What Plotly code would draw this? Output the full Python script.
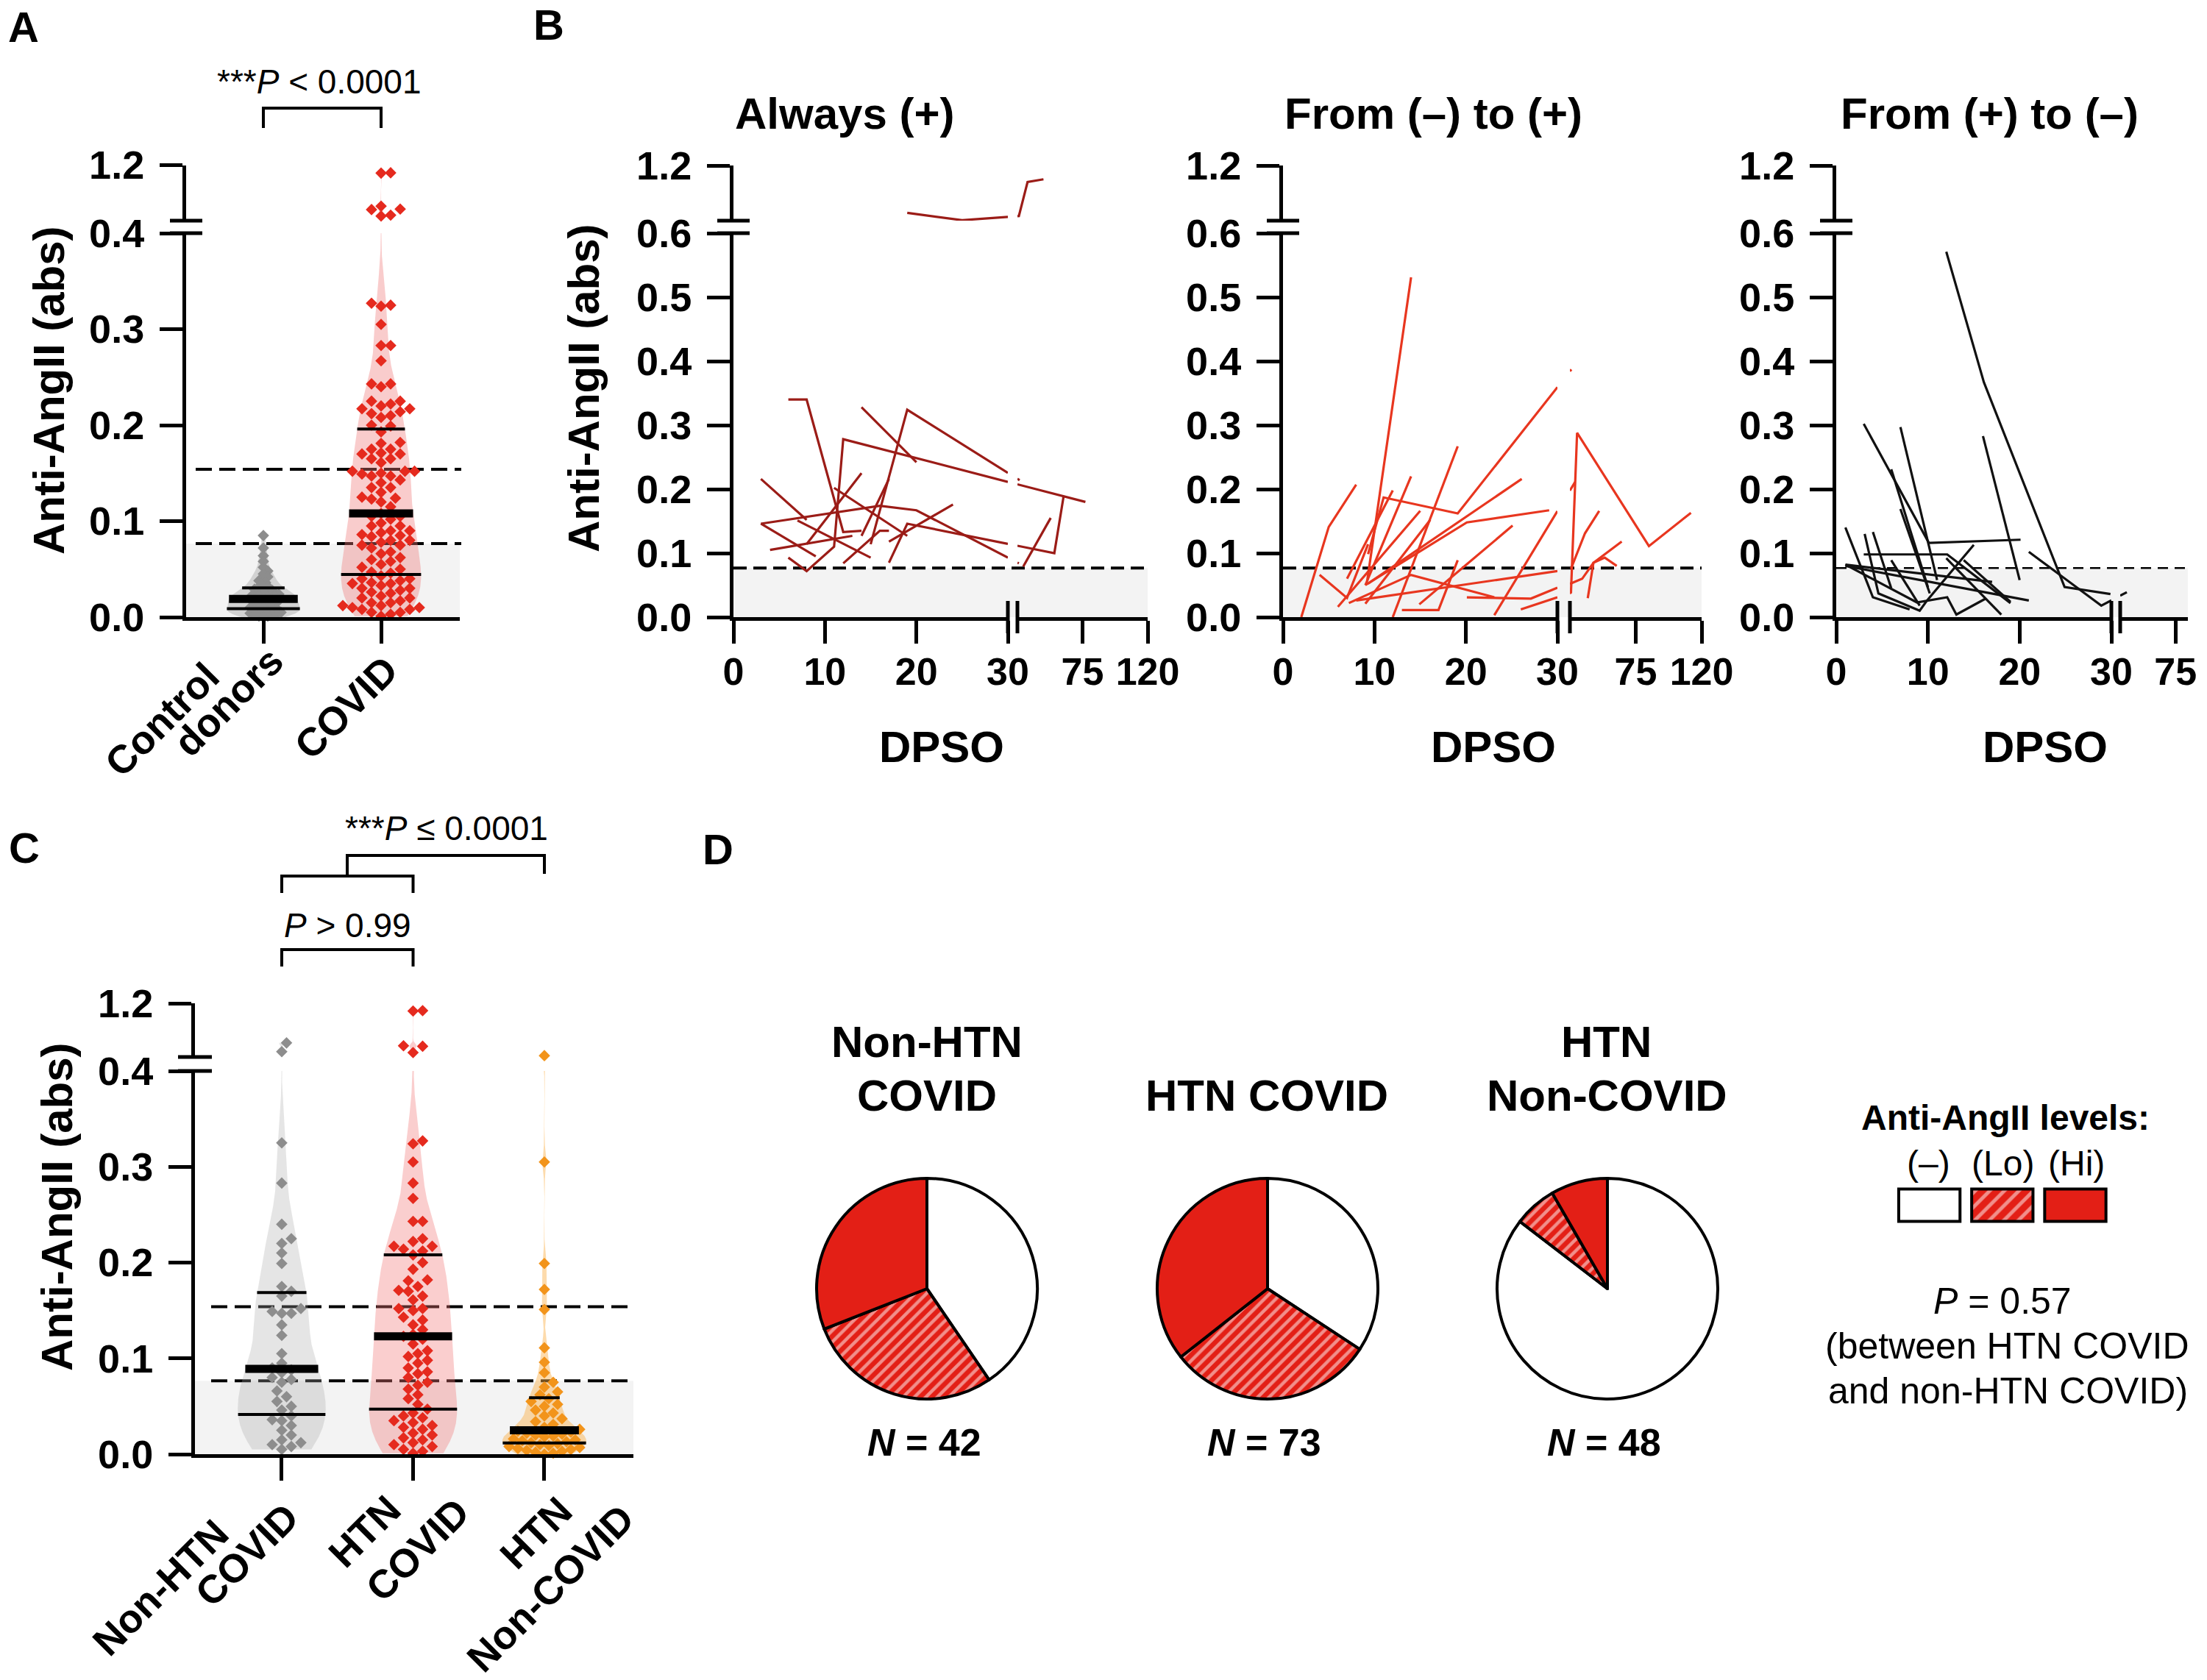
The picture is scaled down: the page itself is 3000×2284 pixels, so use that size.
import numpy as np
import plotly.graph_objects as go

W, H = 3000, 2284
FONT = "Liberation Sans, Arial, Helvetica, sans-serif"

# ---------------- data ----------------
A_CATEGORIES = ["Control donors", "COVID"]
CONTROL_DONORS = [0.085, 0.072, 0.064, 0.058, 0.052, 0.048, 0.045, 0.042, 0.040, 0.038, 0.036, 0.034, 0.032,
                  0.030, 0.029, 0.028, 0.027, 0.026, 0.025, 0.024, 0.023, 0.022, 0.022, 0.021, 0.020, 0.019,
                  0.019, 0.018, 0.017, 0.016, 0.015, 0.015, 0.014, 0.013, 0.012, 0.011, 0.010, 0.010, 0.009,
                  0.008, 0.007, 0.007, 0.006, 0.005, 0.005, 0.004, 0.003, 0.003, 0.002, 0.001, 0.001, 0.000]
NONHTN_COVID = [0.610, 0.480, 0.325, 0.283, 0.240, 0.225, 0.220, 0.210, 0.199, 0.175, 0.170, 0.165,
                0.152, 0.149, 0.147, 0.147, 0.135, 0.124, 0.105, 0.095, 0.090, 0.088, 0.085, 0.080,
                0.078, 0.075, 0.066, 0.060, 0.055, 0.050, 0.046, 0.040, 0.036, 0.035, 0.030, 0.025,
                0.020, 0.015, 0.012, 0.010, 0.008, 0.005]
HTN_COVID = [1.090, 1.085, 0.567, 0.560, 0.466,
             0.327, 0.324, 0.305, 0.283, 0.267, 0.243, 0.243, 0.225, 0.222, 0.217, 0.217, 0.214, 0.212,
             0.208, 0.200, 0.193, 0.182, 0.181, 0.175, 0.171, 0.170, 0.165, 0.161, 0.152, 0.152, 0.150,
             0.143, 0.140, 0.135, 0.130, 0.125, 0.123,
             0.120, 0.115, 0.108, 0.105, 0.102, 0.098, 0.095, 0.090, 0.086, 0.084, 0.080, 0.075, 0.072,
             0.068, 0.062, 0.058, 0.052, 0.047,
             0.043, 0.040, 0.038, 0.035, 0.033, 0.030, 0.028, 0.026, 0.022, 0.020, 0.017, 0.015, 0.012,
             0.010, 0.008, 0.005, 0.003, 0.001]
HTN_NONCOVID = [0.420, 0.305, 0.199, 0.172, 0.151, 0.111, 0.096, 0.085, 0.075, 0.070, 0.065, 0.062,
                0.058, 0.055, 0.052, 0.050, 0.046, 0.043, 0.040, 0.037, 0.034, 0.031, 0.028, 0.026,
                0.024, 0.023, 0.022, 0.021, 0.020, 0.019, 0.018, 0.016, 0.015, 0.014, 0.013, 0.012,
                0.011, 0.010, 0.009, 0.008, 0.007, 0.006, 0.005, 0.004, 0.003, 0.002, 0.001, 0.000]
ALL_COVID = NONHTN_COVID + HTN_COVID
C_CATEGORIES = ["Non-HTN COVID", "HTN COVID", "HTN Non-COVID"]

LO_CUTOFF = 0.0766
HI_CUTOFF = 0.154

AC_YTICKS = [0.0, 0.1, 0.2, 0.3, 0.4]
AC_YTICKTEXT = ["0.0", "0.1", "0.2", "0.3", "0.4"]
B_YTICKS = [0.0, 0.1, 0.2, 0.3, 0.4, 0.5, 0.6]
B_YTICKTEXT = ["0.0", "0.1", "0.2", "0.3", "0.4", "0.5", "0.6"]
TOP_TICK = [1.2]
TOP_TICKTEXT = ["1.2"]
B_XTICKS_EARLY = [0, 10, 20, 30]
B_XTICKS_LATE = [75, 120]
B3_XTICKS_LATE = [75]

# Panel B: days post symptom onset (DPSO) and Anti-AngII per patient
ALWAYS_DAYS = [[6, 8, 12, 14], [14, 20], [15, 19, 31.5], [6, 8, 11, 12, 77], [17, 19, 55.5, 62],
               [34, 53], [3, 16, 20, 31], [3, 9], [3, 8], [11, 19], [4, 13], [7, 15], [8, 14],
               [12, 16, 17], [14, 17], [17, 24], [19, 25, 31, 37, 48]]
ALWAYS_VALS = [[0.340, 0.340, 0.133, 0.135], [0.328, 0.242], [0.114, 0.324, 0.214],
               [0.093, 0.072, 0.110, 0.278, 0.180], [0.085, 0.146, 0.100, 0.190],
               [0.079, 0.155], [0.146, 0.174, 0.167, 0.084], [0.146, 0.095], [0.216, 0.152],
               [0.202, 0.127], [0.105, 0.127], [0.151, 0.093], [0.114, 0.225],
               [0.084, 0.135, 0.135], [0.127, 0.216], [0.118, 0.176], [0.685, 0.605, 0.650, 1.02, 1.05]]

NEG2POS_DAYS = [[2, 5, 8], [4, 7, 9.3], [9.2, 14], [9.3, 11, 19.1, 31], [9, 20.1, 29.1],
                [30.7, 34.9, 84, 112.7], [30.7, 40.3, 50], [30, 38.4, 46.1, 65.4], [42.2, 46.1, 53.8, 62],
                [23.1, 33.5], [26, 30.7], [20.1, 27.1, 30], [8, 30], [7, 12], [9, 14], [12, 19.1],
                [13, 17, 19.1], [9.3, 26.1], [14.9, 25.1], [6, 15], [9, 16.1], [7.2, 14, 23.1]]
NEG2POS_VALS = [[0.0, 0.141, 0.207], [0.066, 0.030, 0.114], [0.056, 0.531], [0.0985, 0.187, 0.162, 0.387],
                [0.05, 0.148, 0.167], [0.037, 0.288, 0.111, 0.163], [0.0755, 0.131, 0.166],
                [0.052, 0.060, 0.085, 0.118], [0.0295, 0.085, 0.093, 0.080], [0.003, 0.211],
                [0.012, 0.038], [0.031, 0.029, 0.046], [0.026, 0.072], [0.060, 0.198], [0.05, 0.220],
                [0.0, 0.267], [0.011, 0.011, 0.089], [0.0525, 0.216], [0.020, 0.143], [0.016, 0.166],
                [0.021, 0.152], [0.022, 0.066, 0.031]]

POS2NEG_DAYS = [[12, 16.1, 24.9, 29.9], [21, 28.9, 35.4], [3, 10.1, 20.1], [7, 11], [16, 20], [6, 10],
                [7, 10.2], [3, 12.1, 19], [1, 4, 8], [3.1, 4.6, 9.1, 9.9, 15], [4, 6],
                [1, 8.8, 12.1, 13.1, 16.3], [1, 17], [1, 21], [12, 18], [13.9, 19], [6, 9.1]]
POS2NEG_VALS = [[0.571, 0.367, 0.047, 0.036], [0.102, 0.018, 0.039], [0.302, 0.116, 0.121],
                [0.297, 0.058], [0.283, 0.058], [0.231, 0.047], [0.169, 0.037], [0.098, 0.098, 0.022],
                [0.140, 0.031, 0.012], [0.130, 0.037, 0.010, 0.026, 0.113], [0.133, 0.045],
                [0.082, 0.023, 0.031, 0.004, 0.029], [0.082, 0.055], [0.080, 0.026], [0.092, 0.004],
                [0.089, 0.024], [0.089, 0.018]]

# Panel D: counts per Anti-AngII level
PIE_LEVELS = ["(–)", "(Lo)", "(Hi)"]
PIE_NONHTN_COVID = [17, 12, 13]
PIE_HTN_COVID = [25, 22, 26]
PIE_HTN_NONCOVID = [41, 3, 4]

RED = "#e31f16"
COL_ALWAYS = "#9b1c17"
COL_NEG2POS = "#e8361f"
COL_POS2NEG = "#111111"

# ---------------- helpers ----------------
fig = go.Figure()
layout = dict(width=W, height=H, margin=dict(l=0, r=0, t=0, b=0, pad=0),
              paper_bgcolor="white", plot_bgcolor="white", showlegend=False,
              font=dict(family=FONT, color="black"))
shapes, annotations = [], []
counter = {"x": 0, "y": 0}


def px_x(p):
    return p / W


def px_y(p):
    return 1 - p / H


def axis_style(tickvals, ticktext, size, standoff, **kw):
    d = dict(showline=True, linecolor="black", linewidth=5, ticks="outside", ticklen=31,
             tickwidth=5, tickcolor="black", showgrid=False, zeroline=False,
             tickmode="array", tickvals=tickvals, ticktext=ticktext,
             tickfont=dict(family=FONT, size=size, color="black", weight="bold"),
             ticklabelstandoff=standoff, fixedrange=True, automargin=False)
    d.update(kw)
    return d


def new_axis(kind, p0, p1, rng, style):
    counter[kind] += 1
    n = counter[kind]
    suffix = "" if n == 1 else str(n)
    dom = [px_x(p0), px_x(p1)] if kind == "x" else [px_y(p0), px_y(p1)]
    d = dict(domain=dom, range=rng)
    d.update(style)
    layout[kind + "axis" + suffix] = d
    return kind + suffix, kind + "axis" + suffix


def text(x, y, s, size, bold=False, angle=0, xanchor="center"):
    annotations.append(dict(x=px_x(x), y=px_y(y), xref="paper", yref="paper", text=s, showarrow=False,
                            font=dict(family=FONT, size=size, color="black",
                                      weight="bold" if bold else "normal"),
                            textangle=angle, xanchor=xanchor, yanchor="middle"))


def pline(x0, y0, x1, y1, w=5):
    shapes.append(dict(type="line", xref="paper", yref="paper", x0=px_x(x0), y0=px_y(y0),
                       x1=px_x(x1), y1=px_y(y1), line=dict(color="black", width=w), layer="above"))


def ppath(points, w=4):
    d = "M " + " L ".join(f"{px_x(a):.5f},{px_y(b):.5f}" for a, b in points)
    shapes.append(dict(type="path", xref="paper", yref="paper", path=d,
                       line=dict(color="black", width=w), layer="above"))


def hline(yref, val, x0, x1, w, dash):
    shapes.append(dict(type="line", xref="paper", yref=yref, x0=px_x(x0), x1=px_x(x1), y0=val, y1=val,
                       line=dict(color="black", width=w, dash=dash), layer="below"))


def shade(yref, x0, x1, top):
    shapes.append(dict(type="rect", xref="paper", yref=yref, x0=px_x(x0), x1=px_x(x1), y0=0, y1=top,
                       fillcolor="#f3f3f3", line=dict(width=0), layer="below"))


def swarm(v, ymap, d):
    ys = np.array([ymap(t) for t in v])
    order = np.argsort(ys, kind="stable")
    offs = [0.0]
    for j in range(1, 80):
        offs += [j * d * 0.5, -j * d * 0.5]
    placed, out = [], np.zeros(len(v))
    for i in order:
        y = ys[i]
        near = [(a, b) for a, b in placed if abs(b - y) < d]
        for o in offs:
            if all((o - a) ** 2 + (y - b) ** 2 >= d * d for a, b in near):
                break
        placed.append((o, y))
        out[i] = o
    return out


def draw_group(vals, center, xref, ylo, yhi, xscale, lo_scale, gap, hi_scale, fill, pcolor, halfw, dist):
    v = np.asarray(vals, dtype=float)
    q1, q2, q3 = np.percentile(v, [25, 50, 75])
    sd = v.std(ddof=1)
    bw = max(0.9 * min(sd, (q3 - q1) / 1.34) * len(v) ** -0.2 * 0.75, 0.005)
    grid = np.linspace(v.min(), v.max(), 1600)
    dens = np.exp(-0.5 * ((grid[:, None] - v[None, :]) / bw) ** 2).sum(axis=1)
    w = dens * halfw / dens.max()
    xs = np.concatenate([center + w, (center - w)[::-1]])
    ys = np.concatenate([grid, grid[::-1]])
    for yr in (ylo, yhi):
        fig.add_trace(go.Scatter(x=xs, y=ys, xaxis=xref, yaxis=yr, mode="lines", fill="toself",
                                 fillcolor=fill, line=dict(width=0), hoverinfo="skip"))

    def ymap(val):
        return val * lo_scale if val <= 0.4 else 0.4 * lo_scale + gap + (val - 0.4) * hi_scale

    xp = center + swarm(v, ymap, dist) / xscale
    lo = v <= 0.4
    for mask, yr in ((lo, ylo), (~lo, yhi)):
        if mask.any():
            fig.add_trace(go.Scatter(x=xp[mask], y=v[mask], xaxis=xref, yaxis=yr, mode="markers",
                                     marker=dict(symbol="diamond", size=12, color=pcolor, line=dict(width=0)),
                                     cliponaxis=False, hoverinfo="skip"))
    for q, lw in ((q1, 4), (q3, 4), (q2, 11)):
        hw = float(np.interp(q, grid, w))
        fig.add_trace(go.Scatter(x=[center - hw, center + hw], y=[q, q], xaxis=xref, yaxis=ylo,
                                 mode="lines", line=dict(color="black", width=lw), hoverinfo="skip"))


def cat_label(lines_with_pos, size=54):
    for s, (x, y) in lines_with_pos:
        text(x, y, s, size, bold=True, angle=-45)


# ---------------- Panel A ----------------
xA, xAk = new_axis("x", 253, 625, [-0.65625, 1.66875],
                   axis_style([0, 1], A_CATEGORIES, 54, 6, showticklabels=False))
yA, yAk = new_axis("y", 839, 317, [0, 0.4], axis_style(AC_YTICKS, AC_YTICKTEXT, 54, 10))
yA2, yA2k = new_axis("y", 300, 224.5, [0.4, 1.2], axis_style(TOP_TICK, TOP_TICKTEXT, 54, 10))
layout[xAk]["anchor"] = yA
layout[yAk]["anchor"] = xA
layout[yA2k]["anchor"] = xA

shade(yA, 253, 625, LO_CUTOFF)
hline(yA, HI_CUTOFF, 266, 627, 4, "22px,10px")
hline(yA, LO_CUTOFF, 266, 627, 4, "22px,10px")
draw_group(CONTROL_DONORS, 0, xA, yA, yA2, 160, 1305, 17, 94.4, "rgba(150,150,150,0.35)", "#8d8d8d", 0.31, 6)
draw_group(ALL_COVID, 1, xA, yA, yA2, 160, 1305, 17, 94.4, "rgba(240,120,120,0.38)", "#e52a1e", 0.34, 13)
pline(231, 300, 275, 300)
pline(231, 317, 275, 317)
ppath([(358, 174), (358, 147), (518, 147), (518, 174)])
text(434, 111, "***<i>P</i> < 0.0001", 46)
text(66, 531, "Anti-AngII (abs)", 60, bold=True, angle=-90)
text(32, 36, "A", 58, bold=True)
a_words = A_CATEGORIES[0].split(" ")
cat_label([(a_words[0], (220, 978)), (a_words[1], (310, 954)), (A_CATEGORIES[1], (470, 962))])


# ---------------- Panel B ----------------
def b_panel(x0, seg1_end, seg2_start, seg2_end, late_rng, late_ticks, days_list, vals_list, color,
            dash_w, dash, title, title_x, dpso_x):
    xa, xak = new_axis("x", x0, seg1_end, [0, 30],
                       axis_style(B_XTICKS_EARLY, [str(t) for t in B_XTICKS_EARLY], 52, -6))
    xb, xbk = new_axis("x", seg2_start, seg2_end, late_rng,
                       axis_style(late_ticks, [str(t) for t in late_ticks], 52, -6))
    ylo, ylok = new_axis("y", 839, 317, [0, 0.6], axis_style(B_YTICKS, B_YTICKTEXT, 54, 10))
    yhi, yhik = new_axis("y", 300, 225, [0.6, 1.2], axis_style(TOP_TICK, TOP_TICKTEXT, 54, 10))
    layout[xak]["anchor"] = ylo
    layout[xbk]["anchor"] = ylo
    layout[ylok]["anchor"] = xa
    layout[yhik]["anchor"] = xa
    shade(ylo, x0, seg2_end, LO_CUTOFF)
    hline(ylo, LO_CUTOFF, x0, seg2_end, dash_w, dash)

    k1 = (seg1_end - x0) / 30.0
    k2 = (seg2_end - seg2_start) / (late_rng[1] - late_rng[0])

    def disp(d):
        return d * k1 if d <= 30 else (seg2_start - x0) + (d - 30) * k2

    end1, start2 = seg1_end - x0, seg2_start - x0
    X1, Y1, X2, Y2 = [], [], [], []
    for days, vals in zip(days_list, vals_list):
        ax_, ay_, bx_, by_ = [], [], [], []
        for i, (d, v) in enumerate(zip(days, vals)):
            if i > 0 and days[i - 1] < 30 < d:
                d0, v0 = days[i - 1], vals[i - 1]
                p0, p1 = disp(d0), disp(d)
                ax_.append(30)
                ay_.append(v0 + (v - v0) * (end1 - p0) / (p1 - p0))
                bx_.append(30)
                by_.append(v0 + (v - v0) * (start2 - p0) / (p1 - p0))
            if d <= 30:
                ax_.append(d)
                ay_.append(v)
            if d >= 30:
                bx_.append(d)
                by_.append(v)
        X1 += ax_ + [None]
        Y1 += ay_ + [None]
        X2 += bx_ + [None]
        Y2 += by_ + [None]
    for xr, X, Y in ((xa, X1, Y1), (xb, X2, Y2)):
        for yr in (ylo, yhi):
            fig.add_trace(go.Scatter(x=X, y=Y, xaxis=xr, yaxis=yr, mode="lines",
                                     line=dict(color=color, width=3.2), hoverinfo="skip"))
    pline(x0 - 22, 300, x0 + 22, 300)
    pline(x0 - 22, 317, x0 + 22, 317)
    pline(seg1_end, 817, seg1_end, 861)
    pline(seg2_start, 817, seg2_start, 861)
    text(title_x, 155, title, 60, bold=True)
    text(dpso_x, 1015, "DPSO", 60, bold=True)


b_panel(997, 1370, 1383, 1560, [30, 120], B_XTICKS_LATE, ALWAYS_DAYS, ALWAYS_VALS, COL_ALWAYS,
        4, "18px,9px", "Always (+)", 1148, 1280)
b_panel(1744, 2117, 2134, 2313, [30, 120], B_XTICKS_LATE, NEG2POS_DAYS, NEG2POS_VALS, COL_NEG2POS,
        4, "18px,9px", "From (–) to (+)", 1948, 2030)
b_panel(2496, 2870, 2882, 2974, [30, 85], B3_XTICKS_LATE, POS2NEG_DAYS, POS2NEG_VALS, COL_POS2NEG,
        2.5, "14px,9px", "From (+) to (–)", 2704, 2780)
text(793, 527, "Anti-AngII (abs)", 60, bold=True, angle=-90)
text(746, 34, "B", 58, bold=True)

# ---------------- Panel C ----------------
xC, xCk = new_axis("x", 265, 861, [-0.661, 2.678],
                   axis_style([0, 1, 2], C_CATEGORIES, 54, 6, showticklabels=False))
yC, yCk = new_axis("y", 1977, 1456, [0, 0.4], axis_style(AC_YTICKS, AC_YTICKTEXT, 54, 10))
yC2, yC2k = new_axis("y", 1437, 1364, [0.4, 1.2], axis_style(TOP_TICK, TOP_TICKTEXT, 54, 10))
layout[xCk]["anchor"] = yC
layout[yCk]["anchor"] = xC
layout[yC2k]["anchor"] = xC
shade(yC, 265, 861, LO_CUTOFF)
hline(yC, HI_CUTOFF, 287, 861, 4, "22px,10px")
hline(yC, LO_CUTOFF, 287, 861, 4, "22px,10px")
draw_group(NONHTN_COVID, 0, xC, yC, yC2, 178.5, 1302.5, 19, 91.25, "rgba(170,170,170,0.3)", "#8d8d8d", 0.335, 13)
draw_group(HTN_COVID, 1, xC, yC, yC2, 178.5, 1302.5, 19, 91.25, "rgba(240,120,120,0.36)", "#e52a1e", 0.335, 13)
draw_group(HTN_NONCOVID, 2, xC, yC, yC2, 178.5, 1302.5, 19, 91.25, "rgba(250,175,70,0.45)", "#f2941b", 0.32, 12)
pline(242, 1437, 288, 1437)
pline(242, 1456, 288, 1456)
ppath([(383, 1314), (383, 1291), (561.5, 1291), (561.5, 1314)])
ppath([(383, 1214), (383, 1191), (561.5, 1191), (561.5, 1214)])
ppath([(472, 1191), (472, 1163), (740, 1163), (740, 1188)])
text(472, 1258, "<i>P</i> > 0.99", 46)
text(607, 1126, "***<i>P</i> ≤ 0.0001", 46)
text(77, 1641, "Anti-AngII (abs)", 60, bold=True, angle=-90)
text(33, 1152, "C", 58, bold=True)
c0 = C_CATEGORIES[0].split(" ")
c1 = C_CATEGORIES[1].split(" ")
c2 = C_CATEGORIES[2].split(" ")
cat_label([(c0[0], (218, 2158)), (c0[1], (335, 2114)),
           (c1[0], (495, 2082)), (c1[1], (567, 2107)),
           (c2[0], (728, 2084)), (c2[1], (748, 2159))])

# ---------------- Panel D ----------------
text(976, 1154, "D", 58, bold=True)


def pie(values, cx, cy, r):
    fig.add_trace(go.Pie(values=values, labels=PIE_LEVELS, sort=False, direction="clockwise", rotation=0,
                         domain=dict(x=[px_x(cx - r), px_x(cx + r)], y=[px_y(cy + r), px_y(cy - r)]),
                         marker=dict(colors=["white", RED, RED], line=dict(color="black", width=4),
                                     pattern=dict(shape=["", "/", ""], fgcolor="white",
                                                  fillmode="overlay", size=11, solidity=0.4)),
                         textinfo="none", hoverinfo="skip", showlegend=False))


pie(PIE_NONHTN_COVID, 1260, 1752, 150)
pie(PIE_HTN_COVID, 1723, 1752, 150)
pie(PIE_HTN_NONCOVID, 2185, 1752, 150)
text(1260, 1416, "Non-HTN", 60, bold=True)
text(1260, 1489, "COVID", 60, bold=True)
text(1722, 1489, "HTN COVID", 60, bold=True)
text(2183, 1416, "HTN", 60, bold=True)
text(2184, 1489, "Non-COVID", 60, bold=True)
text(1256, 1961, f"<i>N</i> = {sum(PIE_NONHTN_COVID)}", 52, bold=True)
text(1719, 1961, f"<i>N</i> = {sum(PIE_HTN_COVID)}", 52, bold=True)
text(2180, 1961, f"<i>N</i> = {sum(PIE_HTN_NONCOVID)}", 52, bold=True)

# legend swatches
xL, xLk = new_axis("x", 2573, 2870.6, [-0.5, 2.5], dict(visible=False, fixedrange=True))
yL, yLk = new_axis("y", 1665, 1612, [-0.1, 1.1], dict(visible=False, fixedrange=True))
layout[xLk]["anchor"] = yL
layout[yLk]["anchor"] = xL
fig.add_trace(go.Bar(x=[0, 1, 2], y=[1, 1, 1], width=0.84, xaxis=xL, yaxis=yL, hoverinfo="skip",
                     marker=dict(color=["white", RED, RED], line=dict(color="black", width=4),
                                 pattern=dict(shape=["", "/", ""], fgcolor="white", fillmode="overlay",
                                              size=14, solidity=0.35))))
text(2726, 1519, "Anti-AngII levels:", 48, bold=True)
text(2621, 1581, PIE_LEVELS[0], 48)
text(2722, 1581, PIE_LEVELS[1], 48)
text(2822, 1581, PIE_LEVELS[2], 48)
text(2722, 1769, "<i>P</i> = 0.57", 50)
text(2728, 1830, "(between HTN COVID", 50)
text(2729, 1891, "and non-HTN COVID)", 50)

layout["shapes"] = shapes
layout["annotations"] = annotations
fig.update_layout(**layout)
fig.write_html("out.html", config={"displayModeBar": False},
               post_script="document.body.style.margin='0';document.body.style.overflow='hidden';")
